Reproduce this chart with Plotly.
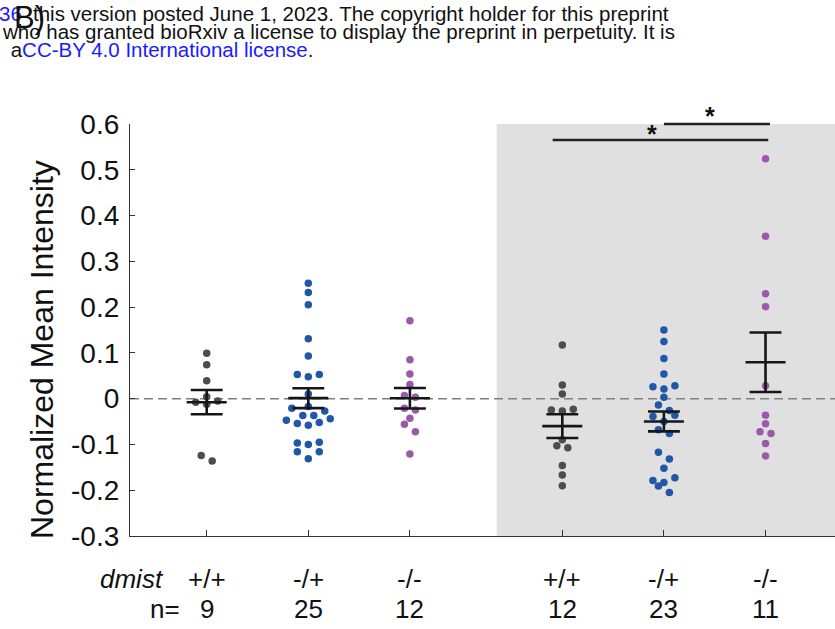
import numpy as np
import plotly.graph_objects as go

# Normalized mean intensity per animal, grouped by dmist genotype
# (left block: first condition, right block: shaded condition)
g1_wt = [0.099, 0.074, 0.039, 0.004, -0.008, -0.012, -0.005, -0.124, -0.136]
g1_het = [0.252, 0.232, 0.205, 0.131, 0.093, 0.053, 0.048, 0.053, 0.010,
          -0.017, -0.021, -0.027, -0.037, -0.037, -0.044, -0.047, -0.052,
          -0.054, -0.058, -0.095, -0.097, -0.100, -0.116, -0.116, -0.131]
g1_mut = [0.170, 0.085, 0.054, 0.031, 0.007, 0.003, -0.021, -0.025,
          -0.043, -0.056, -0.072, -0.121]
g2_wt = [0.117, 0.030, 0.010, -0.023, -0.025, -0.027, -0.090, -0.103,
         -0.107, -0.146, -0.167, -0.190]
g2_het = [0.150, 0.125, 0.088, 0.054, 0.028, 0.026, 0.021, 0.003, -0.014,
          -0.026, -0.036, -0.039, -0.050, -0.068, -0.076, -0.117, -0.132,
          -0.152, -0.173, -0.179, -0.183, -0.191, -0.205]
g2_mut = [0.524, 0.355, 0.229, 0.201, 0.028, -0.036, -0.055, -0.072,
          -0.076, -0.098, -0.125]

groups = [g1_wt, g1_het, g1_mut, g2_wt, g2_het, g2_mut]
genotypes = ["+/+", "-/+", "-/-", "+/+", "-/+", "-/-"]
positions = [1, 2, 3, 4.5, 5.5, 6.5]
y_ticks = [-0.3, -0.2, -0.1, 0, 0.1, 0.2, 0.3, 0.4, 0.5, 0.6]
y_tick_text = ["-0.3", "-0.2", "-0.1", "0", "0.1", "0.2", "0.3", "0.4", "0.5", "0.6"]

GRAY = "#4d4d4d"
BLUE = "#2157a8"
PURPLE = "#9b59a9"
colors = [GRAY, BLUE, PURPLE, GRAY, BLUE, PURPLE]

W, H = 835, 629
ML, MR, MT, MB = 130, 0, 124, 93
X_RANGE = [0.245, 7.184]
Y_RANGE = [-0.3, 0.6]
PW = W - ML - MR
PH = H - MT - MB


def px_x(px):
    return (px - ML) / PW


def px_y(py):
    return (H - MB - py) / PH


def spread(vals, center, bin_w=0.016, step=0.108):
    """Spread points horizontally within value bins (plotSpread style)."""
    vals = np.asarray(vals)
    order = np.argsort(vals)
    bins, cur = [], []
    for i in order:
        if cur and vals[i] - vals[cur[0]] >= bin_w:
            bins.append(cur)
            cur = []
        cur.append(i)
    if cur:
        bins.append(cur)
    xs = np.full(len(vals), float(center))
    for b in bins:
        k = len(b)
        if k % 2:
            slots = [0] + [s for j in range(1, k // 2 + 1) for s in (-j, j)]
        else:
            slots = [s for j in range(k // 2) for s in (j + 0.5, -(j + 0.5))]
        for idx, s in zip(b, slots):
            xs[idx] = center + s * step
    return xs


fig = go.Figure()

for vals, pos, col in zip(groups, positions, colors):
    fig.add_trace(go.Scatter(
        x=spread(vals, pos), y=vals, mode="markers",
        marker=dict(size=7.5, color=col, line=dict(width=0)),
        showlegend=False, hoverinfo="y"))

# mean +/- SEM
for vals, pos in zip(groups, positions):
    v = np.asarray(vals)
    m = v.mean()
    sem = v.std(ddof=1) / np.sqrt(len(v))
    mw, cw = 0.197, 0.157
    xs = [pos - mw, pos + mw, None, pos - cw, pos + cw, None,
          pos - cw, pos + cw, None, pos, pos]
    ys = [m, m, None, m + sem, m + sem, None,
          m - sem, m - sem, None, m - sem, m + sem]
    fig.add_trace(go.Scatter(x=xs, y=ys, mode="lines",
                             line=dict(color="#161616", width=2.6),
                             showlegend=False, hoverinfo="skip"))

shapes = [
    dict(type="rect", xref="x", yref="y", x0=3.854, x1=X_RANGE[1],
         y0=Y_RANGE[0], y1=Y_RANGE[1], fillcolor="#e0e0e0",
         line=dict(width=0), layer="below"),
    dict(type="line", xref="x", yref="y", x0=X_RANGE[0], x1=X_RANGE[1],
         y0=0, y1=0, line=dict(color="#808080", width=1.5, dash="9px,5px"),
         layer="below"),
    # significance bars
    dict(type="line", xref="x", yref="paper", x0=5.5, x1=6.544,
         y0=px_y(124), y1=px_y(124), line=dict(color="#222222", width=2.6)),
    dict(type="line", xref="x", yref="paper", x0=4.405, x1=6.527,
         y0=px_y(140), y1=px_y(140), line=dict(color="#222222", width=2.6)),
]

FONT = "Liberation Sans, Arial, sans-serif"
INK = "#111111"
ann = []
for sx, sy in [(5.954, 115.5), (5.38, 134)]:
    ann.append(dict(x=sx, y=px_y(sy), xref="x", yref="paper", text="<b>*</b>",
                    showarrow=False, xanchor="center", yanchor="middle",
                    font=dict(family=FONT, size=25, color=INK)))

# y-axis title
ann.append(dict(x=px_x(42), y=px_y(350), xref="paper", yref="paper",
                text="Normalized Mean Intensity", textangle=-90,
                showarrow=False, xanchor="center", yanchor="middle",
                font=dict(family=FONT, size=32, color=INK)))

# genotype and sample-size rows
LF = dict(family=FONT, size=26, color=INK)
ann.append(dict(x=px_x(166), y=px_y(579), xref="paper", yref="paper",
                text="<i>dmist</i>", showarrow=False, xanchor="right",
                yanchor="middle", font=LF))
ann.append(dict(x=px_x(182), y=px_y(609), xref="paper", yref="paper",
                text="n=", showarrow=False, xanchor="right",
                yanchor="middle", font=LF))
for vals, pos, gt in zip(groups, positions, genotypes):
    ann.append(dict(x=pos, y=px_y(579), xref="x", yref="paper", text=gt,
                    showarrow=False, xanchor="center", yanchor="middle",
                    font=LF))
    ann.append(dict(x=pos, y=px_y(609), xref="x", yref="paper",
                    text=str(len(vals)), showarrow=False, xanchor="center",
                    yanchor="middle", font=LF))

# preprint header lines
HF = dict(family=FONT, size=20.5, color=INK)
ann.append(dict(x=px_x(-3), y=px_y(13), xref="paper", yref="paper",
                text='<span style="color:#1a1aff">36</span>', showarrow=False,
                xanchor="left", yanchor="middle", font=HF))
ann.append(dict(x=px_x(31), y=px_y(13), xref="paper", yref="paper",
                text="this version posted June 1, 2023. The copyright holder for this preprint",
                showarrow=False, xanchor="left", yanchor="middle", font=HF))
ann.append(dict(x=px_x(0), y=px_y(31.5), xref="paper", yref="paper",
                text="who has granted bioRxiv a license to display the preprint in perpetuity. It is",
                showarrow=False, xanchor="left", yanchor="middle", font=HF))
ann.append(dict(x=px_x(3), y=px_y(49.5), xref="paper", yref="paper",
                text=' a<span style="color:#1a1aff">CC-BY 4.0 International license</span>.',
                showarrow=False, xanchor="left", yanchor="middle", font=HF))
ann.append(dict(x=px_x(12), y=px_y(18), xref="paper", yref="paper",
                text="B)", showarrow=False, xanchor="left", yanchor="middle",
                font=dict(family=FONT, size=31, color=INK)))

fig.update_layout(
    width=W, height=H,
    margin=dict(l=ML, r=MR, t=MT, b=MB, pad=0),
    paper_bgcolor="white", plot_bgcolor="white",
    shapes=shapes, annotations=ann,
    font=dict(family=FONT, color=INK),
    xaxis=dict(range=X_RANGE, tickvals=positions, showticklabels=False,
               ticks="inside", ticklen=6, tickwidth=1.2, tickcolor="#333333",
               showline=True, linecolor="#333333", linewidth=1.3,
               showgrid=False, zeroline=False, fixedrange=True),
    yaxis=dict(range=Y_RANGE, tickvals=y_ticks, ticktext=y_tick_text,
               ticks="inside", ticklen=5, tickwidth=1.2, tickcolor="#333333",
               showline=True, linecolor="#333333", linewidth=1.3,
               showgrid=False, zeroline=False, ticklabelstandoff=4,
               tickfont=dict(family=FONT, size=28, color=INK)),
)

fig.write_html("out.html")
